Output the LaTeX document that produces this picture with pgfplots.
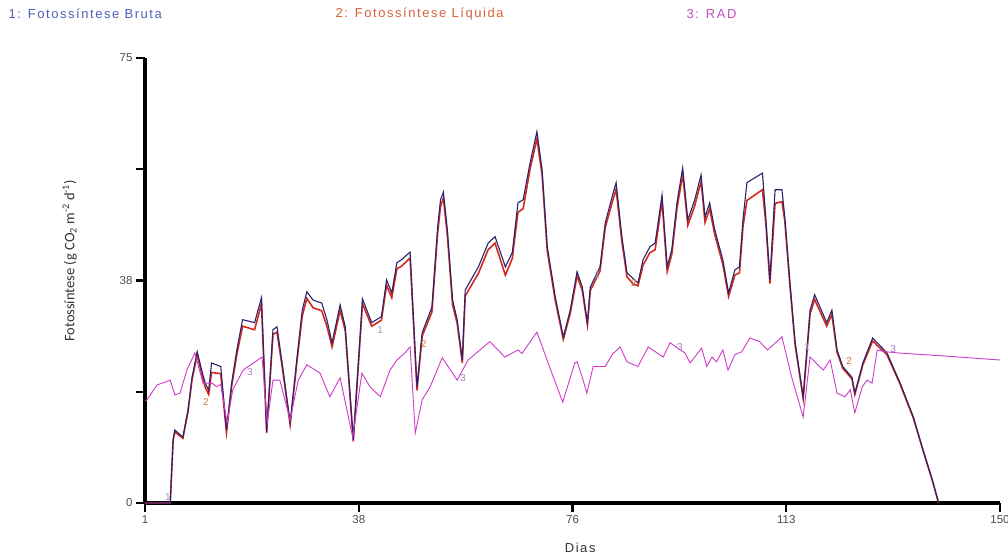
\documentclass[border=0pt]{standalone}
\usepackage{fontspec}
\setmainfont{Liberation Sans}
\newfontfamily\spfont[LetterSpace=12]{Liberation Sans}
\newfontfamily\calfont{Carlito}
\usepackage{pgfplots}
\usepackage{pgfplotstable}
\pgfplotsset{compat=1.18}

\definecolor{c1}{HTML}{28236E}
\definecolor{c2}{HTML}{D42A1E}
\definecolor{c3}{HTML}{CC3ACC}
\definecolor{t1}{HTML}{4F5FB8}
\definecolor{t2}{HTML}{D8603A}
\definecolor{t3}{HTML}{C24FC2}
\definecolor{l1}{HTML}{8A9AC0}
\definecolor{l2}{HTML}{C87A3A}
\definecolor{l3}{HTML}{A878C8}

\pgfplotstableread{
day val
1 0
5.4 0
5.9 10.6
6.2 12.3
7.6 11.1
8.5 15.7
9.2 21.2
10.1 25.5
11.0 21.9
11.5 20.2
12.1 19.0
12.6 23.6
14.2 23.0
15.2 12.3
16.1 20.2
17.0 25.8
18.0 30.9
20.1 30.4
21.3 34.6
22.2 12.0
23.3 29.2
24.0 29.7
24.9 23.6
26.3 13.5
27.5 24.6
28.4 32.5
29.2 35.6
30.3 34.2
31.8 33.7
32.7 30.9
33.6 27.0
35.0 33.4
35.9 29.7
37.3 10.6
38.9 34.4
40.5 30.4
42.2 31.4
43.1 37.6
44.0 35.4
44.9 40.5
45.7 41.0
47.2 42.3
48.4 19.5
49.3 28.7
51.0 33.0
52.0 46.5
52.5 51.1
53.0 52.4
53.7 46.0
54.6 34.2
55.4 30.9
56.3 24.1
56.8 35.9
59.1 39.8
60.8 43.8
62.0 44.9
63.8 39.8
65.0 42.2
66.0 50.6
66.9 51.1
68.1 57.3
69.3 62.6
70.2 56.2
71.1 43.2
72.5 34.7
73.9 28.0
75.1 32.5
76.3 39.0
77.2 36.4
78.1 30.4
78.6 36.4
80.3 39.8
81.2 47.2
82.4 51.6
83.1 54.0
84.1 44.9
85.0 38.8
86.0 37.9
86.9 37.1
87.8 41.0
89.0 43.2
89.9 43.8
91.1 51.9
92.0 39.8
92.8 42.7
93.7 50.6
94.7 56.5
95.6 47.7
96.8 51.1
97.9 55.3
98.6 48.2
99.4 50.6
100.3 46.0
101.7 41.0
102.7 35.4
103.8 39.3
104.6 39.8
105.2 47.7
105.9 54.0
108.6 55.6
109.2 48.0
109.9 37.6
110.8 52.8
112.0 52.8
112.5 48.2
113.4 37.1
114.3 27.0
115.7 17.9
116.9 32.5
117.7 35.1
119.8 30.4
120.7 32.5
121.6 25.8
122.6 23.0
124.2 21.2
124.7 18.5
126.1 23.6
127.8 27.8
130.3 25.3
132.6 20.2
134.9 14.5
136.6 8.9
138.2 3.9
139.3 0
}\bruta

\pgfplotstableread{
day val
1 0
5.4 0
5.9 10.6
6.2 12.0
7.6 10.9
8.5 15.4
9.2 20.8
10.1 25.0
11.0 21.3
11.5 19.5
12.1 18.3
12.6 22.0
14.2 21.8
15.2 11.9
16.1 19.7
17.0 25.0
18.0 29.8
20.1 29.2
21.3 33.6
22.2 11.8
23.3 28.4
24.0 28.8
24.9 23.0
26.3 13.2
27.5 24.0
28.4 31.5
29.2 34.5
30.3 32.9
31.8 32.4
32.7 29.8
33.6 26.3
35.0 32.5
35.9 29.0
37.3 10.4
38.9 33.6
40.5 29.8
42.2 30.8
43.1 36.7
44.0 34.6
44.9 39.5
45.7 39.9
47.2 41.3
48.4 19.0
49.3 28.1
51.0 32.2
52.0 45.5
52.5 50.0
53.0 51.4
53.7 45.0
54.6 33.4
55.4 30.3
56.3 23.6
56.8 34.9
59.1 38.7
60.8 42.7
62.0 43.8
63.8 38.4
65.0 41.2
66.0 49.0
66.9 49.6
68.1 56.3
69.3 61.4
70.2 55.3
71.1 42.5
72.5 34.1
73.9 27.6
75.1 31.9
76.3 38.3
77.2 35.8
78.1 30.0
78.6 35.8
80.3 39.1
81.2 46.4
82.4 50.6
83.1 52.9
84.1 44.1
85.0 38.1
86.0 37.0
86.9 36.6
87.8 40.1
89.0 42.2
89.9 42.7
91.1 50.9
92.0 39.0
92.8 41.9
93.7 49.6
94.7 55.4
95.6 46.8
96.8 50.1
97.9 54.2
98.6 47.3
99.4 49.6
100.3 45.2
101.7 40.2
102.7 34.8
103.8 38.4
104.6 38.8
105.2 46.5
105.9 51.0
108.6 52.8
109.2 47.0
109.9 37.0
110.8 50.5
112.0 50.8
112.5 47.5
113.4 36.5
114.3 26.6
115.7 17.6
116.9 31.9
117.7 34.3
119.8 29.8
120.7 31.8
121.6 25.4
122.6 22.7
124.2 20.9
124.7 18.3
126.1 23.3
127.8 27.3
130.3 25.0
132.6 20.0
134.9 14.3
136.6 8.8
138.2 3.8
139.3 0
}\liquida

\pgfplotstableread{
day val
1 17.2
1.35 17.4
3.1 19.9
5.4 20.7
6.2 18.2
7.1 18.5
8.3 22.4
9.7 25.3
11.1 20.2
12.7 20.2
13.5 19.6
14.2 20.0
15.3 13.5
16.3 19.1
18.1 22.4
21.4 24.6
22.3 13.5
23.3 20.7
24.5 20.7
25.7 16.2
26.3 14.0
27.7 20.7
29.2 23.3
31.5 21.9
33.2 17.9
35.0 21.1
37.2 11.1
38.8 21.9
40.2 19.6
42.0 17.9
43.7 22.4
44.9 24.1
46.3 25.3
47.2 26.3
48.1 11.8
49.3 17.4
50.7 19.6
52.8 24.5
55.4 20.7
57.3 24.1
61.1 27.2
63.7 24.6
66.0 25.8
66.7 25.2
69.3 28.8
71.9 21.9
73.8 17.0
75.9 23.6
76.3 23.8
77.2 21.2
78.0 18.5
79.1 23.0
81.2 23.0
82.4 25.0
83.8 26.3
85.0 23.8
86.9 23.0
88.7 26.3
91.3 24.6
92.5 27.0
95.1 25.3
96.0 23.6
98.0 26.1
98.9 23.0
99.8 24.6
100.6 23.8
101.7 25.8
102.6 22.4
103.8 25.0
105.0 25.5
106.4 27.8
108.1 27.2
109.5 25.8
112.0 28.0
113.7 21.2
115.7 14.5
116.9 24.6
117.4 24.1
119.2 22.4
120.4 24.1
121.6 18.5
123.0 17.9
123.9 19.1
124.7 15.2
126.0 19.6
126.8 20.7
127.7 20.2
128.6 25.8
130.0 25.5
132.1 25.3
140.0 24.8
150.0 24.1
}\rad

\begin{document}
\begin{tikzpicture}[x=1pt,y=1pt]
\path[use as bounding box] (-145,-52) rectangle (863,503);
\begin{axis}[
  at={(0,0)}, anchor=south west,
  scale only axis, width=855pt, height=445pt,
  xmin=1, xmax=150, ymin=0, ymax=75,
  axis x line*=bottom, axis y line*=left,
  axis line style={line width=3.2pt, black},
  tick align=outside, major tick length=9pt,
  tick style={line width=2.4pt, black},
  xtick={1,38.25,75.5,112.75,150},
  xticklabels={1,38,76,113,150},
  ytick={0,18.75,37.5,56.25,75},
  yticklabels={0,,38,,75},
  ticklabel style={font=\fontsize{11.5}{13}\selectfont, text=black!70},
  xlabel={Dias},
  ylabel={Fotossíntese (g CO\textsubscript{2} m\textsuperscript{-2} d\textsuperscript{-1})},
  x label style={font=\spfont\fontsize{13}{15}\selectfont, text=black!80, at={(axis description cs:0.509,-0.101)}, anchor=center},
  y label style={font=\calfont\fontsize{14.5}{16}\selectfont, text=black!80, at={(axis description cs:-0.088,0.544)}, anchor=center},
  clip=false,
]
\addplot[c2, line width=1.6pt] table[x=day, y=val] {\liquida};
\addplot[c1, line width=1.1pt] table[x=day, y=val] {\bruta};
\addplot[c3, line width=0.9pt] table[x=day, y=val] {\rad};

\node[text=l1, font=\fontsize{10}{12}\selectfont] at (axis cs:5.0,1.0) {1};
\node[text=l1, font=\fontsize{10}{12}\selectfont] at (axis cs:42.0,29.2) {1};
\node[text=l1, font=\fontsize{10}{12}\selectfont] at (axis cs:79.8,38.4) {1};
\node[text=l1, font=\fontsize{10}{12}\selectfont] at (axis cs:116.4,26.3) {1};
\node[text=l2, font=\fontsize{10}{12}\selectfont] at (axis cs:11.6,17.0) {2};
\node[text=l2, font=\fontsize{10}{12}\selectfont] at (axis cs:49.6,26.8) {2};
\node[text=l2, font=\fontsize{10}{12}\selectfont] at (axis cs:86.2,37.1) {2};
\node[text=l2, font=\fontsize{10}{12}\selectfont] at (axis cs:123.7,23.9) {2};
\node[text=l3, font=\fontsize{10}{12}\selectfont] at (axis cs:19.3,22.1) {3};
\node[text=l3, font=\fontsize{10}{12}\selectfont] at (axis cs:56.4,21.1) {3};
\node[text=l3, font=\fontsize{10}{12}\selectfont] at (axis cs:94.2,26.3) {3};
\node[text=l3, font=\fontsize{10}{12}\selectfont] at (axis cs:131.4,26.0) {3};
\end{axis}
\node[anchor=west, text=t1, font=\spfont\fontsize{13}{15}\selectfont] at (-140,489) {1: Fotossíntese Bruta};
\node[anchor=west, text=t2, font=\spfont\fontsize{13}{15}\selectfont] at (187,489) {2: Fotossíntese Líquida};
\node[anchor=west, text=t3, font=\spfont\fontsize{13}{15}\selectfont] at (538,489) {3: RAD};
\end{tikzpicture}
\end{document}
